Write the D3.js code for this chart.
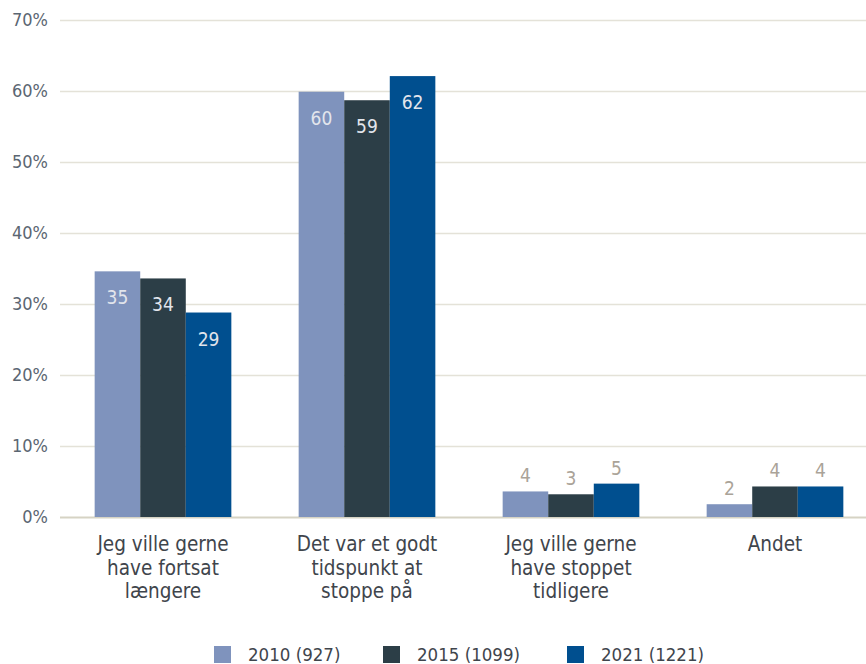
<!DOCTYPE html>
<html>
<head>
<meta charset="utf-8">
<script src="https://cdn.jsdelivr.net/npm/d3@7"></script>
<style>
  body { margin: 0; background: #fff; }
  text { font-family: "DejaVu Sans Condensed", "Liberation Sans Narrow", sans-serif; }
  .val { font-family: "Liberation Sans Narrow", "DejaVu Sans Condensed", sans-serif; }
</style>
</head>
<body>
<div id="chart"></div>
<script>
var svgWidth = 866;
var svgHeight = 664;

// categories, each label split into lines
var categories = [
  ["Jeg ville gerne", "have fortsat", "længere"],
  ["Det var et godt", "tidspunkt at", "stoppe på"],
  ["Jeg ville gerne", "have stoppet", "tidligere"],
  ["Andet"]
];
var seriesNames = ["2010 (927)", "2015 (1099)", "2021 (1221)"];
var seriesColors = ["#7f93bd", "#2c3e47", "#004f8f"];

// percent values (labels are the rounded figures)
var values2010 = [34.6, 59.9, 3.6, 1.8];
var values2015 = [33.6, 58.7, 3.2, 4.3];
var values2021 = [28.8, 62.1, 4.7, 4.3];
var yTicks = [0, 10, 20, 30, 40, 50, 60, 70];

var series = [values2010, values2015, values2021];

var svg = d3.select("#chart")
  .append("svg")
  .attr("width", svgWidth)
  .attr("height", svgHeight);

var x = d3.scaleBand()
  .domain(d3.range(categories.length))
  .range([61, 877])
  .paddingInner(0.33)
  .paddingOuter(0.165);

var xInner = d3.scaleBand()
  .domain(d3.range(series.length))
  .range([0, x.bandwidth()]);

var y = d3.scaleLinear()
  .domain([0, 70])
  .range([517, 20]);

// gridlines + tick labels
var grid = svg.append("g")
  .attr("transform", "translate(60,0)")
  .call(d3.axisLeft(y).tickValues(yTicks).tickSize(-806).tickFormat(d => d + "%"));
grid.select(".domain").remove();
grid.selectAll(".tick line")
  .attr("stroke", d => d === 0 ? "#d6d3c4" : "#e4e2d8")
  .attr("stroke-width", d => d === 0 ? 2 : 1.5);
grid.selectAll(".tick text")
  .attr("x", -12)
  .attr("fill", "#5b6672")
  .style("font-size", "18px");

// bars
var groups = svg.selectAll(".group")
  .data(categories)
  .enter()
  .append("g")
  .attr("transform", (d, i) => `translate(${x(i)},0)`);

groups.each(function (cat, ci) {
  var g = d3.select(this);
  series.forEach(function (vals, si) {
    var v = vals[ci];
    var bx = xInner(si);
    g.append("rect")
      .attr("x", bx)
      .attr("y", y(v))
      .attr("width", xInner.bandwidth())
      .attr("height", y(0) - y(v))
      .attr("fill", seriesColors[si]);

    var inside = v > 10;
    g.append("text")
      .attr("class", "val")
      .attr("x", bx + xInner.bandwidth() / 2)
      .attr("y", inside ? y(v) + 33 : y(v) - 9)
      .attr("text-anchor", "middle")
      .attr("fill", inside ? "#e2e5ec" : "#aaa398")
      .style("font-size", "19px")
      .text(Math.round(v));
  });

  var label = g.append("text")
    .attr("x", x.bandwidth() / 2)
    .attr("y", 551)
    .attr("text-anchor", "middle")
    .attr("fill", "#3f454c")
    .style("font-size", "20.5px");
  cat.forEach(function (line, li) {
    label.append("tspan")
      .attr("x", x.bandwidth() / 2)
      .attr("dy", li === 0 ? 0 : 23.5)
      .text(line);
  });
});

// legend
var legendX = [214, 383, 567];
var legend = svg.selectAll(".legend")
  .data(seriesNames)
  .enter()
  .append("g")
  .attr("transform", (d, i) => `translate(${legendX[i]},646)`);

legend.append("rect")
  .attr("width", 17)
  .attr("height", 17)
  .attr("fill", (d, i) => seriesColors[i]);

legend.append("text")
  .attr("x", 34)
  .attr("y", 15)
  .attr("fill", "#3f454c")
  .style("font-size", "18.5px")
  .text(d => d);
</script>
</body>
</html>
